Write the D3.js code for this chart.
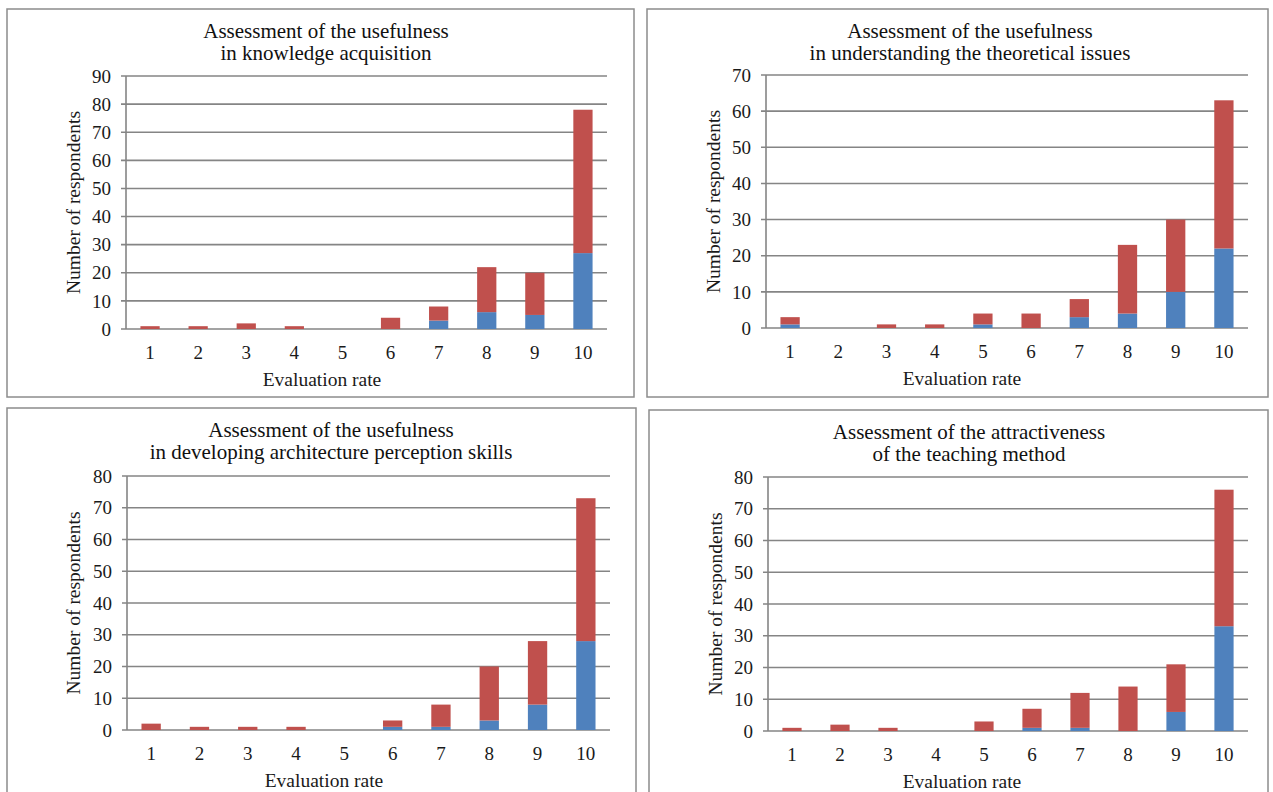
<!DOCTYPE html>
<html>
<head>
<meta charset="utf-8">
<script src="https://cdn.jsdelivr.net/npm/d3@7"></script>
<style>
  body { margin: 0; background: #fff; }
  svg { display: block; font-family: "Liberation Serif", "Times New Roman", serif; }
</style>
</head>
<body>
<svg id="chart" width="1273" height="792"></svg>
<script>
// Evaluation rates on the x axis
const rates = ['1', '2', '3', '4', '5', '6', '7', '8', '9', '10'];

// Chart titles (two lines each)
const titles = [
    ['Assessment of the usefulness', 'in knowledge acquisition'],
    ['Assessment of the usefulness', 'in understanding the theoretical issues'],
    ['Assessment of the usefulness', 'in developing architecture perception skills'],
    ['Assessment of the attractiveness', 'of the teaching method']
];

// Lower (blue) and upper (red) segments of each stacked bar
const blueKnowledge = [0, 0, 0, 0, 0, 0, 3, 6, 5, 27];
const redKnowledge  = [1, 1, 2, 1, 0, 4, 5, 16, 15, 51];

const blueTheory = [1, 0, 0, 0, 1, 0, 3, 4, 10, 22];
const redTheory  = [2, 0, 1, 1, 3, 4, 5, 19, 20, 41];

const bluePerception = [0, 0, 0, 0, 0, 1, 1, 3, 8, 28];
const redPerception  = [2, 1, 1, 1, 0, 2, 7, 17, 20, 45];

const blueMethod = [0, 0, 0, 0, 0, 1, 1, 0, 6, 33];
const redMethod  = [1, 2, 1, 0, 3, 6, 11, 14, 15, 43];

// Y axis maximum per chart
const yMax = [90, 70, 80, 80];

const yLabel = 'Number of respondents';
const xLabel = 'Evaluation rate';

const blueColor = '#4f81bd';
const redColor = '#c0504d';

const series = [
    [blueKnowledge, redKnowledge],
    [blueTheory, redTheory],
    [bluePerception, redPerception],
    [blueMethod, redMethod]
];

// Panel geometry: frame box, plot area and text anchors
const layout = [
    { box: [7, 9, 634, 397],      plot: [126, 76, 607, 329],  yTitleX: 73,  titleX: 326, xTitleX: 322 },
    { box: [647, 9, 1268, 397],   plot: [766, 75, 1248, 328], yTitleX: 713, titleX: 970, xTitleX: 962 },
    { box: [7, 408, 636, 800],    plot: [127, 476, 610, 730], yTitleX: 73,  titleX: 331, xTitleX: 324 },
    { box: [649, 410, 1268, 800], plot: [768, 477, 1248, 731], yTitleX: 715, titleX: 969, xTitleX: 962 }
];

const svg = d3.select('#chart');

layout.forEach(function(L, i){
    const g = svg.append('g');
    const [bx0, by0, bx1, by1] = L.box;
    const [px0, py0, px1, py1] = L.plot;

    // Frame
    g.append('rect')
        .attr('x', bx0).attr('y', by0)
        .attr('width', bx1 - bx0).attr('height', by1 - by0)
        .attr('fill', '#fff')
        .attr('stroke', '#8c8c8c')
        .attr('stroke-width', 1.5);

    const x = d3.scaleBand().domain(rates).range([px0, px1]).paddingInner(0.6).paddingOuter(0.3);
    const y = d3.scaleLinear().domain([0, yMax[i]]).range([py1, py0]);

    // Gridlines
    const ticks = d3.range(0, yMax[i] + 1, 10);
    g.append('g').selectAll('line')
        .data(ticks)
        .join('line')
        .attr('x1', px0 - 5).attr('x2', px1)
        .attr('y1', d => y(d)).attr('y2', d => y(d))
        .attr('stroke', '#858585')
        .attr('stroke-width', 1.6);

    // Y axis line
    g.append('line')
        .attr('x1', px0).attr('x2', px0)
        .attr('y1', py0).attr('y2', py1)
        .attr('stroke', '#858585')
        .attr('stroke-width', 1.6);

    // Y tick labels
    g.append('g').selectAll('text')
        .data(ticks)
        .join('text')
        .attr('x', px0 - 15)
        .attr('y', d => y(d))
        .attr('dy', '0.35em')
        .attr('text-anchor', 'end')
        .style('font-size', '19px')
        .attr('fill', '#1a1a1a')
        .text(d => d);

    // Stacked bars
    const table = rates.map((r, j) => ({ rate: r, blue: series[i][0][j], red: series[i][1][j] }));
    const stacked = d3.stack().keys(['blue', 'red'])(table);
    const colors = { blue: blueColor, red: redColor };

    g.append('g').selectAll('g')
        .data(stacked)
        .join('g')
        .attr('fill', d => colors[d.key])
        .selectAll('rect')
        .data(d => d.filter(s => s[1] > s[0]))
        .join('rect')
        .attr('x', d => x(d.data.rate))
        .attr('width', x.bandwidth())
        .attr('y', d => y(d[1]))
        .attr('height', d => y(d[0]) - y(d[1]));

    // X tick labels
    g.append('g').selectAll('text')
        .data(rates)
        .join('text')
        .attr('x', d => x(d) + x.bandwidth() / 2)
        .attr('y', py1 + 30)
        .attr('text-anchor', 'middle')
        .style('font-size', '19px')
        .attr('fill', '#1a1a1a')
        .text(d => d);

    // Titles
    g.append('text')
        .attr('x', L.titleX).attr('y', by0 + 29)
        .attr('text-anchor', 'middle')
        .style('font-size', '21px')
        .attr('fill', '#111')
        .text(titles[i][0]);
    g.append('text')
        .attr('x', L.titleX).attr('y', by0 + 51)
        .attr('text-anchor', 'middle')
        .style('font-size', '21px')
        .attr('fill', '#111')
        .text(titles[i][1]);

    // Axis titles
    g.append('text')
        .attr('transform', `translate(${L.yTitleX + 7},${(py0 + py1) / 2}) rotate(-90)`)
        .attr('text-anchor', 'middle')
        .style('font-size', '19.5px')
        .attr('fill', '#1a1a1a')
        .text(yLabel);
    g.append('text')
        .attr('x', L.xTitleX).attr('y', py1 + 57)
        .attr('text-anchor', 'middle')
        .style('font-size', '19.5px')
        .attr('fill', '#1a1a1a')
        .text(xLabel);
});
</script>
</body>
</html>
